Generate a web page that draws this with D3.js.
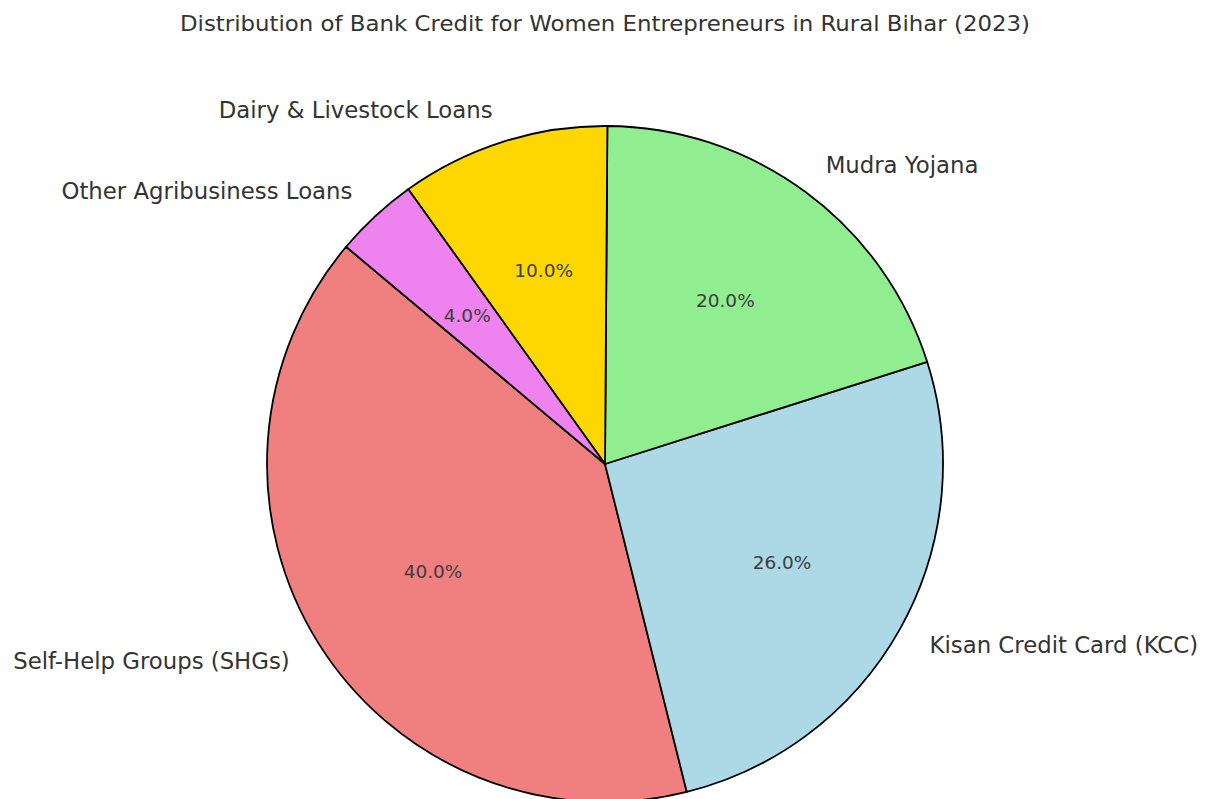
<!DOCTYPE html>
<html>
<head>
<meta charset="utf-8">
<script src="https://cdn.jsdelivr.net/npm/d3@7"></script>
<style>
  body { margin: 0; background: #fff; }
  text { font-family: "DejaVu Sans", sans-serif; fill: #333; }
</style>
</head>
<body>
<div id="chart"></div>
<script>
// data
var categories = ["Self-Help Groups (SHGs)", "Kisan Credit Card (KCC)", "Mudra Yojana", "Dairy & Livestock Loans", "Other Agribusiness Loans"];
var shares = [40, 26, 20, 10, 4];
var colors = ["#F08080", "#ADD8E6", "#90EE90", "#FFD700", "#EE82EE"];
var title = "Distribution of Bank Credit for Women Entrepreneurs in Rural Bihar (2023)";

var width = 1205, height = 799;
var cx = 605, cy = 464, r = 338;

var svg = d3.select("#chart")
  .append("svg")
    .attr("width", width)
    .attr("height", height);

svg.append("text")
  .attr("x", cx)
  .attr("y", 31)
  .attr("text-anchor", "middle")
  .attr("textLength", 850)
  .attr("lengthAdjust", "spacingAndGlyphs")
  .style("font-size", "21px")
  .text(title);

var rows = categories.map(function (c, i) { return {name: c, value: shares[i], color: colors[i]}; });

// matplotlib style: start at 140deg, go counter-clockwise
var start = (90 - 140) * Math.PI / 180;
var pie = d3.pie()
  .sort(null)
  .value(function (d) { return d.value; })
  .startAngle(start)
  .endAngle(start - 2 * Math.PI);

var arcs = pie(rows);
var total = d3.sum(shares);

var arc = d3.arc().innerRadius(0).outerRadius(r);
var labelArc = d3.arc().innerRadius(r * 1.1).outerRadius(r * 1.1);
var pctArc = d3.arc().innerRadius(r * 0.6).outerRadius(r * 0.6);

var g = svg.append("g")
  .attr("transform", "translate(" + cx + "," + cy + ")");

g.selectAll("path.slice")
  .data(arcs)
  .enter()
  .append("path")
    .attr("class", "slice")
    .attr("d", arc)
    .style("fill", function (d) { return d.data.color; })
    .style("stroke", "#000")
    .style("stroke-width", 1.8)
    .style("stroke-linejoin", "round");

g.selectAll("text.label")
  .data(arcs)
  .enter()
  .append("text")
    .attr("class", "label")
    .attr("x", function (d) { return labelArc.centroid(d)[0]; })
    .attr("y", function (d) { return labelArc.centroid(d)[1]; })
    .attr("dy", "0.35em")
    .attr("text-anchor", function (d) { return labelArc.centroid(d)[0] < 0 ? "end" : "start"; })
    .style("font-size", "22.8px")
    .text(function (d) { return d.data.name; });

g.selectAll("text.pct")
  .data(arcs)
  .enter()
  .append("text")
    .attr("class", "pct")
    .attr("x", function (d) { return pctArc.centroid(d)[0]; })
    .attr("y", function (d) { return pctArc.centroid(d)[1]; })
    .attr("dy", "0.35em")
    .attr("text-anchor", "middle")
    .style("font-size", "18.5px")
    .style("fill", "#3d3d3d")
    .text(function (d) { return (d.data.value / total * 100).toFixed(1) + "%"; });
</script>
</body>
</html>
